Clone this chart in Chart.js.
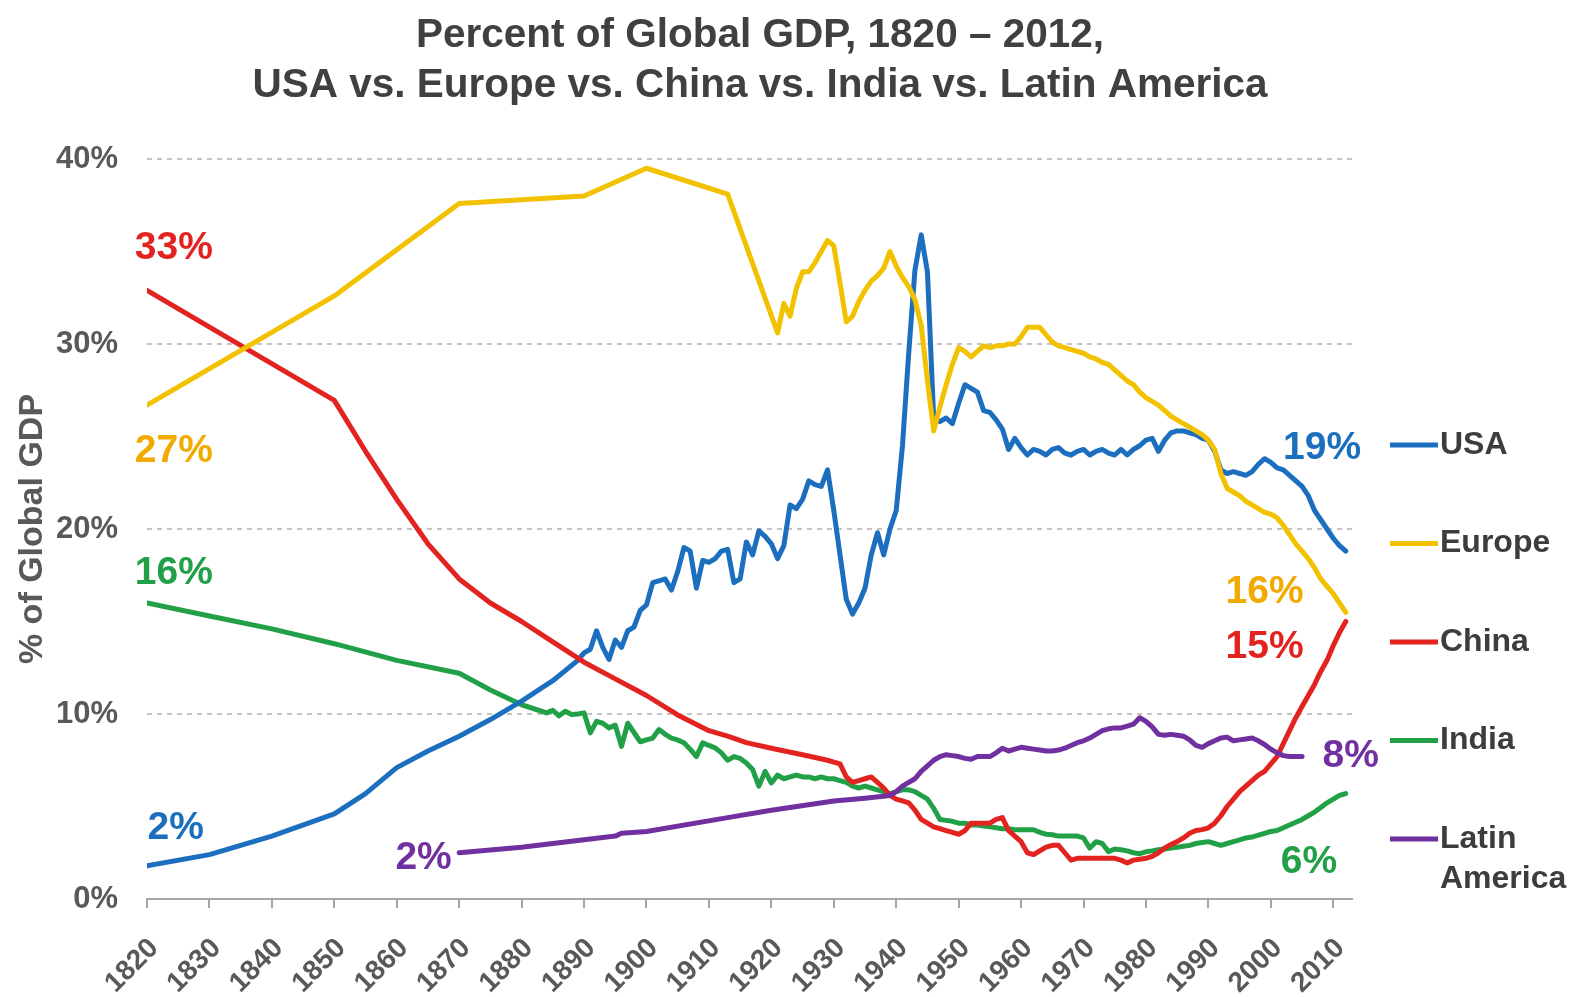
<!DOCTYPE html>
<html>
<head>
<meta charset="utf-8">
<script src="https://cdn.jsdelivr.net/npm/chart.js@4.4.1/dist/chart.umd.min.js"></script>
<style>
html,body{margin:0;padding:0;background:#ffffff;}
canvas{display:block;}
</style>
</head>
<body>
<canvas id="c" width="1572" height="997" style="width:1572px;height:997px"></canvas>
<script>
const FONT = '"Liberation Sans", Arial, Helvetica, sans-serif';

const titleLines = ['Percent of Global GDP, 1820 \u2013 2012,', 'USA vs. Europe vs. China vs. India vs. Latin America'];
const yAxisTitle = '% of Global GDP';
const xTickYears = [1820,1830,1840,1850,1860,1870,1880,1890,1900,1910,1920,1930,1940,1950,1960,1970,1980,1990,2000,2010];
const yTickValues = [0,10,20,30,40];

// USA
const usaEarlyYears = [1820,1830,1840,1850,1855,1860,1865,1870,1875,1880,1885,1889];
const usaEarlyValues = [1.8,2.4,3.4,4.6,5.7,7.1,8.0,8.8,9.7,10.7,11.8,12.9];
const usaAnnualStart = 1890;
const usaAnnualValues = [
 13.3,13.5,14.5,13.6,12.95,14.0,13.6,14.5,14.7,15.6,
 15.9,17.1,17.2,17.3,16.7,17.7,19.0,18.8,16.8,18.3,
 18.2,18.4,18.8,18.9,17.1,17.3,19.3,18.6,19.9,19.6,
 19.2,18.4,19.1,21.3,21.1,21.6,22.6,22.4,22.3,23.2,
 21.0,18.6,16.2,15.4,16.0,16.8,18.6,19.8,18.6,20.0,
 21.0,24.5,29.5,34.0,35.9,33.9,26.0,25.8,26.0,25.7,
 26.8,27.8,27.6,27.4,26.4,26.3,25.9,25.4,24.3,24.9,
 24.4,24.0,24.3,24.2,24.0,24.3,24.4,24.1,24.0,24.2,
 24.3,24.0,24.2,24.3,24.1,24.0,24.3,24.0,24.3,24.5,
 24.8,24.9,24.2,24.8,25.2,25.3,25.3,25.2,25.1,24.9,
 24.8,24.2,23.2,23.0,23.1,23.0,22.9,23.1,23.5,23.8,
 23.6,23.3,23.2,22.9,22.6,22.3,21.8,21.0,20.5,20.0,
 19.5,19.1,18.8];

// Europe
const europeEarlyYears = [1820,1850,1870,1890,1900,1913];
const europeEarlyValues = [26.7,32.6,37.6,38.0,39.5,38.1];
const europeAnnualStart = 1921;
const europeAnnualValues = [
 30.6,32.2,31.5,33.0,33.9,33.9,34.4,35.0,35.6,
 35.3,33.3,31.2,31.5,32.3,32.9,33.4,33.7,34.1,35.0,
 34.2,33.6,33.1,32.4,31.0,28.0,25.3,26.6,27.8,28.9,
 29.8,29.6,29.3,29.6,29.9,29.8,29.9,29.9,30.0,30.0,
 30.4,30.9,30.9,30.9,30.5,30.1,29.9,29.8,29.7,29.6,
 29.5,29.3,29.2,29.0,28.9,28.6,28.3,28.0,27.8,27.4,
 27.1,26.9,26.7,26.4,26.1,25.9,25.7,25.5,25.3,25.1,
 24.8,24.3,23.0,22.2,22.0,21.8,21.5,21.3,21.1,20.9,
 20.8,20.6,20.2,19.7,19.2,18.8,18.4,17.9,17.3,16.9,
 16.5,16.0,15.5];

// China
const chinaEarlyYears = [1820,1850,1855,1860,1865,1870,1875,1880,1885,1890,1895,1900,1905,1910,1913,1916,1920,1925,1929];
const chinaEarlyValues = [32.9,26.95,24.2,21.6,19.2,17.3,16.0,15.0,13.9,12.8,11.9,11.0,9.95,9.1,8.8,8.45,8.15,7.8,7.5];
const chinaAnnualStart = 1930;
const chinaAnnualValues = [
 7.4,7.3,6.6,6.3,6.4,6.5,6.6,6.3,6.0,5.6,
 5.4,5.3,5.2,4.8,4.3,4.1,3.9,3.8,3.7,3.6,
 3.5,3.7,4.1,4.1,4.1,4.1,4.3,4.4,3.7,3.4,
 3.1,2.5,2.4,2.6,2.8,2.9,2.9,2.5,2.1,2.2,
 2.2,2.2,2.2,2.2,2.2,2.2,2.1,1.95,2.1,2.15,
 2.2,2.3,2.5,2.75,2.95,3.1,3.3,3.55,3.7,3.75,
 3.85,4.1,4.5,5.0,5.4,5.8,6.1,6.4,6.7,6.9,
 7.3,7.7,8.4,9.1,9.8,10.4,11.0,11.6,12.3,12.9,
 13.7,14.4,15.0];

// India
const indiaEarlyYears = [1820,1830,1840,1850,1860,1870,1875,1880];
const indiaEarlyValues = [16.0,15.3,14.6,13.8,12.9,12.2,11.3,10.5];
const indiaAnnualStart = 1884;
const indiaAnnualValues = [
 10.06,10.2,9.9,10.15,9.97,10.0,
 10.06,8.98,9.6,9.5,9.25,9.4,8.25,9.5,9.0,8.5,
 8.6,8.7,9.16,8.9,8.7,8.6,8.44,8.1,7.7,8.44,
 8.3,8.17,7.9,7.5,7.7,7.6,7.35,7.0,6.1,6.9,
 6.27,6.7,6.5,6.6,6.7,6.6,6.6,6.5,6.6,6.5,
 6.5,6.4,6.3,6.1,6.0,6.1,6.0,5.9,5.8,5.7,
 5.8,5.9,5.9,5.8,5.6,5.4,4.9,4.3,4.25,4.2,
 4.1,4.1,4.0,4.0,3.95,3.9,3.85,3.8,3.8,3.74,
 3.75,3.74,3.74,3.6,3.5,3.47,3.4,3.4,3.4,3.4,
 3.3,2.75,3.1,3.0,2.56,2.7,2.66,2.6,2.5,2.45,
 2.55,2.6,2.66,2.7,2.75,2.8,2.85,2.9,3.0,3.05,
 3.1,3.0,2.9,3.0,3.1,3.2,3.3,3.35,3.45,3.55,
 3.65,3.7,3.85,4.0,4.15,4.3,4.5,4.7,4.95,5.2,
 5.4,5.6,5.7];

// Latin America
const latamEarlyYears = [1870,1880,1890,1895,1896,1900,1913,1920,1930,1935,1939];
const latamEarlyValues = [2.5,2.8,3.2,3.4,3.55,3.65,4.4,4.8,5.3,5.45,5.6];
const latamAnnualStart = 1940;
const latamAnnualValues = [
 5.8,6.1,6.3,6.5,6.9,7.2,7.5,7.7,7.8,7.75,
 7.7,7.6,7.55,7.7,7.7,7.7,7.9,8.15,8.0,8.1,
 8.2,8.15,8.1,8.05,8.0,8.0,8.05,8.15,8.3,8.45,
 8.55,8.7,8.9,9.1,9.2,9.25,9.25,9.35,9.45,9.8,
 9.6,9.3,8.9,8.85,8.9,8.85,8.8,8.6,8.3,8.2,
 8.4,8.55,8.7,8.75,8.55,8.6,8.65,8.7,8.55,8.35,
 8.1,7.9,7.75,7.7,7.7,7.7];

const seriesLabels = ['USA','Europe','China','India','Latin America'];
const legendTextLines = [['USA'],['Europe'],['China'],['India'],['Latin','America']];
const seriesColors = ['#1c6ebf','#f2c200','#e2231f','#21a047','#7030a0'];
const seriesTextColors = ['#1c6ebf','#f0aa00','#e2231f','#21a047','#7030a0'];

// Start / end value annotations (anchored in data coordinates)
const annotTexts  = ['33%','27%','16%','2%','2%','19%','16%','15%','8%','6%'];
const annotSeries = [2,1,3,0,4,0,1,2,4,3];
const annotYears  = [1824.3,1824.3,1824.3,1824.6,1864.3,2008.2,1999.0,1999.0,2012.8,2006.1];
const annotValues = [35.2,24.2,17.6,3.85,2.2,24.35,16.6,13.6,7.7,2.0];

function buildPoints(earlyYears, earlyValues, annualStart, annualValues) {
  const pts = earlyYears.map((y, i) => ({x: y, y: earlyValues[i]}));
  annualValues.forEach((v, i) => pts.push({x: annualStart + i, y: v}));
  return pts;
}

const seriesPoints = [
  buildPoints(usaEarlyYears, usaEarlyValues, usaAnnualStart, usaAnnualValues),
  buildPoints(europeEarlyYears, europeEarlyValues, europeAnnualStart, europeAnnualValues),
  buildPoints(chinaEarlyYears, chinaEarlyValues, chinaAnnualStart, chinaAnnualValues),
  buildPoints(indiaEarlyYears, indiaEarlyValues, indiaAnnualStart, indiaAnnualValues),
  buildPoints(latamEarlyYears, latamEarlyValues, latamAnnualStart, latamAnnualValues)
];
const drawOrder = [3,1,2,4,0];

const titlePlugin = {
  id: 'pageTitle',
  afterDraw(chart) {
    const ctx = chart.ctx;
    ctx.save();
    ctx.font = 'bold 40.5px ' + FONT;
    ctx.fillStyle = '#404040';
    ctx.textAlign = 'center';
    ctx.textBaseline = 'middle';
    titleLines.forEach((t, i) => ctx.fillText(t, 760, 36 + i * 50));
    ctx.restore();
  }
};

const annotPlugin = {
  id: 'valueAnnotations',
  afterDatasetsDraw(chart) {
    const ctx = chart.ctx, xs = chart.scales.x, ys = chart.scales.y;
    ctx.save();
    ctx.font = 'bold 39px ' + FONT;
    ctx.textAlign = 'center';
    ctx.textBaseline = 'middle';
    annotTexts.forEach((t, i) => {
      ctx.fillStyle = seriesTextColors[annotSeries[i]];
      ctx.fillText(t, xs.getPixelForValue(annotYears[i]), ys.getPixelForValue(annotValues[i]));
    });
    ctx.restore();
  }
};

const legendPlugin = {
  id: 'sideLegend',
  afterDraw(chart) {
    const ctx = chart.ctx;
    const lineX0 = 1390, lineX1 = 1438, textX = 1440, top = 445, gap = 98.5, lineGap = 40;
    ctx.save();
    ctx.font = 'bold 32px ' + FONT;
    ctx.textAlign = 'left';
    ctx.textBaseline = 'middle';
    chart.data.datasets.forEach((ds, i) => {
      const y = top + i * gap;
      ctx.strokeStyle = ds.borderColor;
      ctx.lineWidth = 5;
      ctx.beginPath();
      ctx.moveTo(lineX0, y);
      ctx.lineTo(lineX1, y);
      ctx.stroke();
      ctx.fillStyle = '#3d3d3d';
      legendTextLines[i].forEach((line, k) => ctx.fillText(line, textX, y + k * lineGap));
    });
    ctx.restore();
  }
};

new Chart(document.getElementById('c').getContext('2d'), {
  type: 'line',
  data: {
    datasets: seriesLabels.map((label, i) => ({
      label: label,
      data: seriesPoints[i],
      borderColor: seriesColors[i],
      backgroundColor: seriesColors[i],
      borderWidth: 5,
      pointRadius: 0,
      pointHoverRadius: 0,
      tension: 0,
      fill: false,
      borderJoinStyle: 'round',
      borderCapStyle: 'round',
      order: drawOrder[i]
    }))
  },
  options: {
    responsive: false,
    animation: false,
    devicePixelRatio: 1,
    layout: { padding: { left: 0, right: 220, top: 159, bottom: 0 } },
    plugins: {
      legend: { display: false },
      tooltip: { enabled: false },
      title: { display: false }
    },
    scales: {
      x: {
        type: 'linear',
        min: 1820,
        max: 2013,
        afterBuildTicks: s => { s.ticks = xTickYears.map(v => ({ value: v })); },
        afterFit: s => { s.height = 98; },
        ticks: {
          autoSkip: false,
          minRotation: 45,
          maxRotation: 45,
          padding: 24,
          labelOffset: 7,
          color: '#595959',
          font: { family: FONT, size: 28, weight: 'bold' },
          callback: v => String(v)
        },
        grid: { display: true, drawOnChartArea: false, drawTicks: true, tickLength: 9, color: '#a6a6a6', lineWidth: 2 },
        border: { display: true, color: '#a6a6a6', width: 2 }
      },
      y: {
        min: 0,
        max: 40,
        afterBuildTicks: s => { s.ticks = yTickValues.map(v => ({ value: v })); },
        afterFit: s => { s.width = 147; },
        ticks: {
          padding: 29,
          color: '#595959',
          font: { family: FONT, size: 31, weight: 'bold' },
          callback: v => v + '%'
        },
        grid: {
          drawTicks: false,
          lineWidth: 2,
          color: c => (c.tick && c.tick.value === 0) ? 'rgba(0,0,0,0)' : '#c4c4c4'
        },
        border: { display: false, dash: [5, 5] },
        title: {
          display: true,
          text: yAxisTitle,
          color: '#595959',
          font: { family: FONT, size: 34, weight: 'bold' },
          padding: { top: 12, bottom: 0 }
        }
      }
    }
  },
  plugins: [titlePlugin, annotPlugin, legendPlugin]
});
</script>
</body>
</html>
